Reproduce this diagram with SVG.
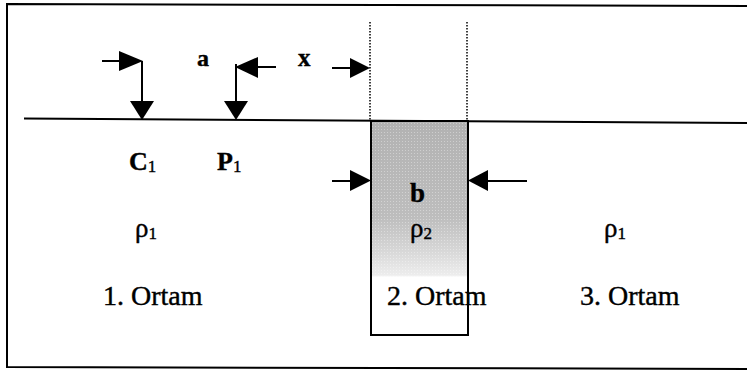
<svg xmlns="http://www.w3.org/2000/svg" width="747" height="374" viewBox="0 0 747 374">
<style>
.t{font-family:"Liberation Serif","Times New Roman",serif;fill:#000;stroke:#000;stroke-width:0.4}
.b{font-weight:bold}
.ln{stroke:#000;stroke-width:2;fill:none}
.dot{stroke:#000;stroke-width:1.5;stroke-dasharray:1.5 1.5;fill:none}
.ah{fill:#000;stroke:none}
</style>
<defs>
<linearGradient id="shade" x1="0" y1="0" x2="0" y2="1">
<stop offset="0" stop-color="#b2b2b2"/>
<stop offset="0.45" stop-color="#bdbdbd"/>
<stop offset="0.6" stop-color="#d6d6d6"/>
<stop offset="0.72" stop-color="#ededed"/>
<stop offset="0.73" stop-color="#ffffff"/>
<stop offset="1" stop-color="#ffffff"/>
</linearGradient>
<pattern id="dots" width="3" height="3" patternUnits="userSpaceOnUse">
<rect x="0" y="0" width="1" height="1" fill="#fff" fill-opacity="0.35"/>
</pattern>
</defs>
<rect width="747" height="374" fill="#fff"/>
<g id="frame">
<polyline class="ln" points="747,6 7,4 7,367 747,369"/>
</g>
<g id="surface">
<line class="ln" x1="24" y1="118.5" x2="747" y2="123"/>
</g>
<g id="medium2">
<rect x="371" y="121" width="97" height="214" fill="url(#shade)"/>
<rect x="371" y="121" width="97" height="156" fill="url(#dots)"/>
<rect x="371" y="121" width="97" height="214" fill="none" stroke="#000" stroke-width="2"/>
<line class="dot" x1="370" y1="22" x2="370" y2="120"/>
<line class="dot" x1="467" y1="22" x2="467" y2="121"/>
</g>
<g id="connectors">
<line class="ln" x1="102" y1="61" x2="121" y2="61"/>
<polygon class="ah" points="119,51 143,61 119,71"/>
<line class="ln" x1="142" y1="61" x2="142" y2="103"/>
<polygon class="ah" points="130,101 154,101 142,120"/>
<line class="ln" x1="236" y1="64" x2="236" y2="103"/>
<polygon class="ah" points="224,101 248,101 236,120"/>
<polygon class="ah" points="235,67 258,57 258,78"/>
<line class="ln" x1="257" y1="67" x2="276" y2="67"/>
<line class="ln" x1="332" y1="68" x2="352" y2="68"/>
<polygon class="ah" points="350,58 370,68 350,78"/>
<line class="ln" x1="332" y1="181" x2="352" y2="181"/>
<polygon class="ah" points="350,170 371,180.5 350,191"/>
<polygon class="ah" points="468,180.5 488,170 488,191"/>
<line class="ln" x1="487" y1="181" x2="527" y2="181"/>
</g>
<g id="labels">
<text class="t b" x="197" y="66" font-size="24">a</text>
<text class="t b" x="298" y="66" font-size="25">x</text>
<text class="t b" x="410" y="202" font-size="27">b</text>
</g>
<g id="c1"><text class="t" x="129" y="170" font-size="26"><tspan class="b">C</tspan><tspan font-size="17" dy="2">1</tspan></text></g>
<g id="p1"><text class="t" x="217" y="170" font-size="26"><tspan class="b">P</tspan><tspan font-size="17" dy="2">1</tspan></text></g>
<g id="rho1a"><text class="t" x="135" y="237" font-size="27">ρ<tspan font-size="17" dy="2">1</tspan></text></g>
<g id="rho2"><text class="t" x="410" y="237" font-size="27">ρ<tspan font-size="17" dy="2">2</tspan></text></g>
<g id="rho1b"><text class="t" x="604" y="237" font-size="27">ρ<tspan font-size="17" dy="2">1</tspan></text></g>
<g id="ortam1"><text class="t" x="103" y="305" font-size="28">1. Ortam</text></g>
<g id="ortam2"><text class="t" x="387" y="305" font-size="28">2. Ortam</text></g>
<g id="ortam3"><text class="t" x="580" y="305" font-size="28">3. Ortam</text></g>
</svg>
